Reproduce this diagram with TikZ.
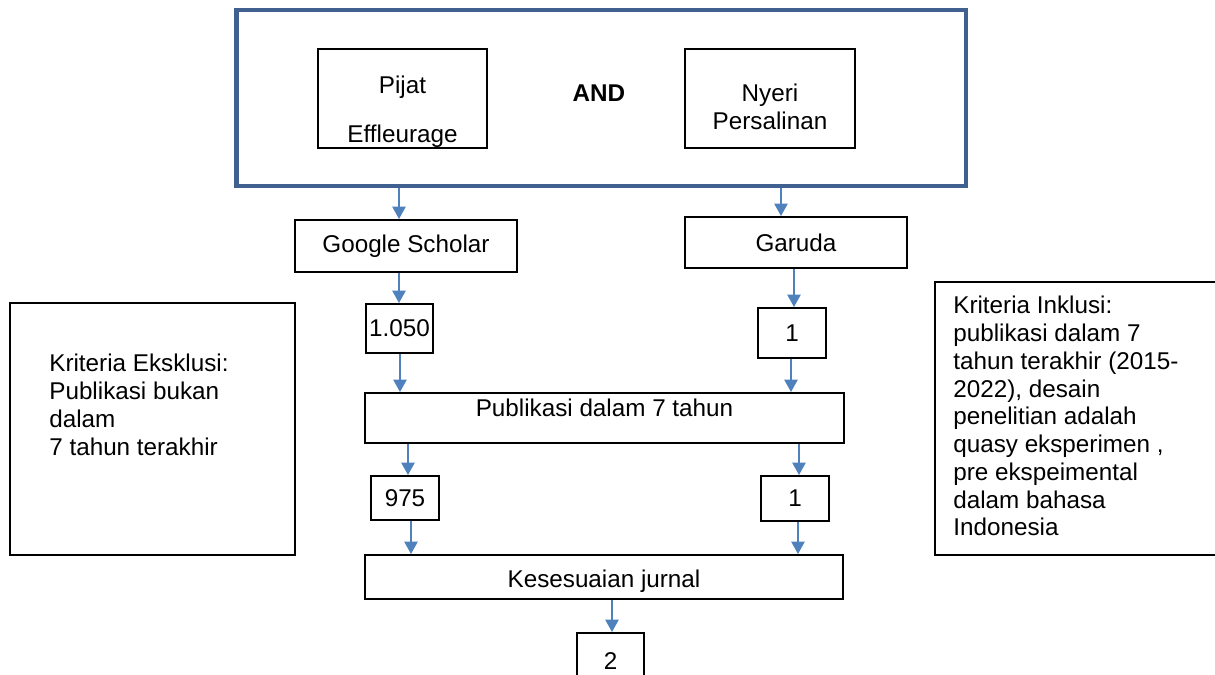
\documentclass[tikz,border=0pt]{standalone}
\usepackage{fontspec}
\setmainfont{Liberation Sans}
\usetikzlibrary{arrows.meta}
\definecolor{arrowblue}{RGB}{79,129,189}
\definecolor{frameblue}{RGB}{64,97,143}

\begin{document}
\begin{tikzpicture}[x=0.02cm, y=-0.02cm,
  font=\fontsize{13.8}{15.8}\selectfont,
  >={Triangle[width=7.5pt,length=7pt]},
  box/.style={draw, line width=1.1pt, inner sep=0pt},
  arr/.style={->, draw=arrowblue, line width=0.9pt}]
\path[use as bounding box, clip] (0,0) rectangle (1215,675);

% keywords
\node[draw=frameblue, line width=2.6pt, minimum width=14.59cm, minimum height=3.52cm] (outer) at (601.25,98) {};
\node[box, minimum width=3.38cm, minimum height=1.98cm] (pijat) at (402.5,98.5) {};
\node[align=center, inner sep=0pt] (pijattxt) at (402.5,112) {Pijat\\[12pt]Effleurage};
\node[font=\fontsize{13.8}{15.8}\selectfont\bfseries, inner sep=0pt] (and) at (599,93) {AND};
\node[box, minimum width=3.39cm, minimum height=1.98cm] (nyeri) at (770,98.5) {};
\node[align=center, inner sep=0pt] (nyeritxt) at (770,107) {Nyeri\\Persalinan};

% databases
\node[box, minimum width=4.44cm, minimum height=1.04cm] (gs) at (406,246) {Google Scholar};
\node[box, minimum width=4.44cm, minimum height=1.02cm] (garuda) at (796,242.5) {Garuda};

% counts
\node[box, minimum width=1.34cm, minimum height=0.98cm] (n1050) at (399.5,328.5) {1.050};
\node[box, minimum width=1.36cm, minimum height=1.0cm] (nr1) at (792,333) {1};
\node[box, minimum width=9.58cm, minimum height=1.0cm] (pub) at (604.5,418) {};
\node[inner sep=0pt] (pubtxt) at (604.5,408) {Publikasi dalam 7 tahun};
\node[box, minimum width=1.36cm, minimum height=0.88cm] (n975) at (405,498) {975};
\node[box, minimum width=1.36cm, minimum height=0.9cm] (nr2) at (795,498.5) {1};
\node[box, minimum width=9.56cm, minimum height=0.88cm] (kes) at (604,577) {};
\node[inner sep=0pt] (kestxt) at (604,581) {Kesesuaian jurnal};
\node[box, minimum width=1.34cm, minimum height=1.14cm] (n2) at (610.5,661.5) {2};

% criteria
\node[box, minimum width=5.7cm, minimum height=5.04cm] (eks) at (152.5,429) {};
\node[anchor=north west, align=left, inner sep=0pt] (ekstxt) at (49,354)
  {Kriteria Eksklusi:\\Publikasi bukan\\dalam\\7 tahun terakhir};
\node[box, minimum width=6.0cm, minimum height=5.46cm] (ink) at (1085,418.5) {};
\node[anchor=north west, align=left, inner sep=0pt] (inktxt) at (953,296)
  {Kriteria Inklusi:\\publikasi dalam 7\\tahun terakhir (2015-\\2022), desain\\penelitian adalah\\quasy eksperimen ,\\pre ekspeimental\\dalam bahasa\\Indonesia};

% arrows
\draw[arr] (outer.south -| 399,0) -- (gs.north -| 399,0);
\draw[arr] (outer.south -| 781,0) -- (garuda.north -| 781,0);
\draw[arr] (gs.south -| 399,0) -- (n1050.north -| 399,0);
\draw[arr] (garuda.south -| 794,0) -- (nr1.north -| 794,0);
\draw[arr] (n1050.south -| 400,0) -- (pub.north -| 400,0);
\draw[arr] (nr1.south -| 791,0) -- (pub.north -| 791,0);
\draw[arr] (pub.south -| 408,0) -- (n975.north -| 408,0);
\draw[arr] (pub.south -| 799,0) -- (nr2.north -| 799,0);
\draw[arr] (n975.south -| 411,0) -- (kes.north -| 411,0);
\draw[arr] (nr2.south -| 798,0) -- (kes.north -| 798,0);
\draw[arr] (kes.south -| 612,0) -- (n2.north -| 612,0);
\end{tikzpicture}
\end{document}
